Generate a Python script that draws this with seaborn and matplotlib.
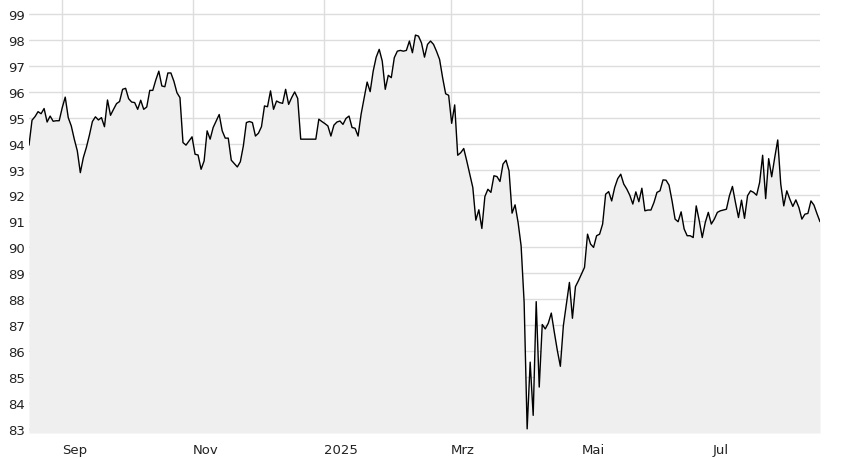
import matplotlib
matplotlib.use("Agg")
import matplotlib.pyplot as plt
import matplotlib.dates as mdates
from matplotlib.ticker import FuncFormatter
import seaborn as sns
import pandas as pd

# closing values, sampled evenly from mid August 2024 to mid August 2025
start_date = "2024-08-16 12:00"
end_date = "2025-08-20"
values = [
    93.94, 94.90, 95.04, 95.23, 95.15, 95.35, 94.83, 95.06, 94.86, 94.88,
    94.88, 95.38, 95.79, 95.00, 94.68, 94.17, 93.72, 92.88, 93.46, 93.85,
    94.32, 94.85, 95.03, 94.91, 95.00, 94.65, 95.68, 95.09, 95.32, 95.54,
    95.62, 96.09, 96.13, 95.73, 95.60, 95.58, 95.32, 95.67, 95.32, 95.41,
    96.05, 96.05, 96.45, 96.79, 96.22, 96.19, 96.72, 96.72, 96.40, 95.96,
    95.77, 94.04, 93.94, 94.10, 94.26, 93.59, 93.56, 93.01, 93.33, 94.49,
    94.17, 94.62, 94.87, 95.12, 94.49, 94.21, 94.21, 93.36, 93.23, 93.10,
    93.30, 93.91, 94.81, 94.85, 94.81, 94.29, 94.40, 94.65, 95.45, 95.42,
    96.03, 95.32, 95.64, 95.58, 95.55, 96.09, 95.51, 95.77, 95.99, 95.74,
    94.17, 94.17, 94.17, 94.17, 94.17, 94.17, 94.94, 94.85, 94.77, 94.68,
    94.29, 94.71, 94.83, 94.87, 94.74, 94.97, 95.06, 94.62, 94.59, 94.29,
    95.13, 95.74, 96.37, 96.00, 96.79, 97.33, 97.63, 97.18, 96.09, 96.63,
    96.54, 97.31, 97.56, 97.59, 97.56, 97.59, 97.95, 97.50, 98.18, 98.14,
    97.88, 97.33, 97.82, 97.95, 97.82, 97.55, 97.24, 96.54, 95.92, 95.86,
    94.78, 95.49, 93.55, 93.65, 93.81, 93.33, 92.82, 92.31, 91.05, 91.45,
    90.73, 91.96, 92.24, 92.12, 92.76, 92.73, 92.54, 93.21, 93.36, 92.95,
    91.32, 91.64, 90.96, 90.06, 87.88, 83.01, 85.58, 83.53, 87.91, 84.62,
    87.03, 86.86, 87.08, 87.47, 86.73, 86.03, 85.42, 86.99, 87.82, 88.65,
    87.27, 88.49, 88.72, 88.97, 89.23, 90.51, 90.13, 90.00, 90.45, 90.51,
    90.90, 92.05, 92.15, 91.79, 92.31, 92.65, 92.82, 92.44, 92.25, 92.01,
    91.67, 92.14, 91.76, 92.28, 91.41, 91.44, 91.44, 91.73, 92.12, 92.18,
    92.60, 92.59, 92.40, 91.79, 91.09, 90.99, 91.37, 90.71, 90.45, 90.45,
    90.38, 91.60, 91.03, 90.38, 90.96, 91.35, 90.90, 91.09, 91.35, 91.41,
    91.44, 91.47, 91.99, 92.35, 91.73, 91.15, 91.82, 91.12, 91.99, 92.18,
    92.12, 92.01, 92.50, 93.55, 91.88, 93.42, 92.72, 93.46, 94.14, 92.44,
    91.60, 92.18, 91.86, 91.58, 91.83, 91.54, 91.09, 91.28, 91.31, 91.79,
    91.63, 91.30, 90.99,
]
month_names = {1: "Jan", 3: "Mrz", 5: "Mai", 7: "Jul", 9: "Sep", 11: "Nov"}
y_ticks = list(range(83, 100))

df = pd.DataFrame({
    "date": pd.date_range(start=start_date, end=end_date, periods=len(values)),
    "value": values,
})

sns.set_style("white")
plt.rcParams["font.family"] = ["DejaVu Sans"]

fig = plt.figure(figsize=(8.48, 4.6), dpi=100)
ax = fig.add_axes([29 / 848, 26 / 460, 791 / 848, 434 / 460])

y_bottom, y_top = 82.85, 99.57
ax.fill_between(df["date"], df["value"], y_bottom, color="#efefef", lw=0, zorder=1)
sns.lineplot(data=df, x="date", y="value", ax=ax, color="black", lw=1.0, zorder=3)

ax.set_xlim(df["date"].iloc[0], df["date"].iloc[-1])
ax.set_ylim(y_bottom, y_top)
ax.set_yticks(y_ticks)

ax.xaxis.set_major_locator(mdates.MonthLocator(bymonth=list(month_names.keys())))


def fmt_date(x, pos=None):
    d = mdates.num2date(x)
    if d.month == 1:
        return str(d.year)
    return month_names.get(d.month, "")


ax.xaxis.set_major_formatter(FuncFormatter(fmt_date))

ax.grid(True, color="#dddddd", lw=1, zorder=0)
ax.set_axisbelow(True)
for s in ax.spines.values():
    s.set_visible(False)
ax.tick_params(axis="both", length=0, labelsize=9.5, colors="#222222")
ax.tick_params(axis="y", pad=3)
ax.tick_params(axis="x", pad=7)
ax.set_xlabel("")
ax.set_ylabel("")

fig.canvas.draw()
for lbl in ax.get_xticklabels():
    lbl.set_horizontalalignment("left")

fig.savefig("out.png", dpi=100)
